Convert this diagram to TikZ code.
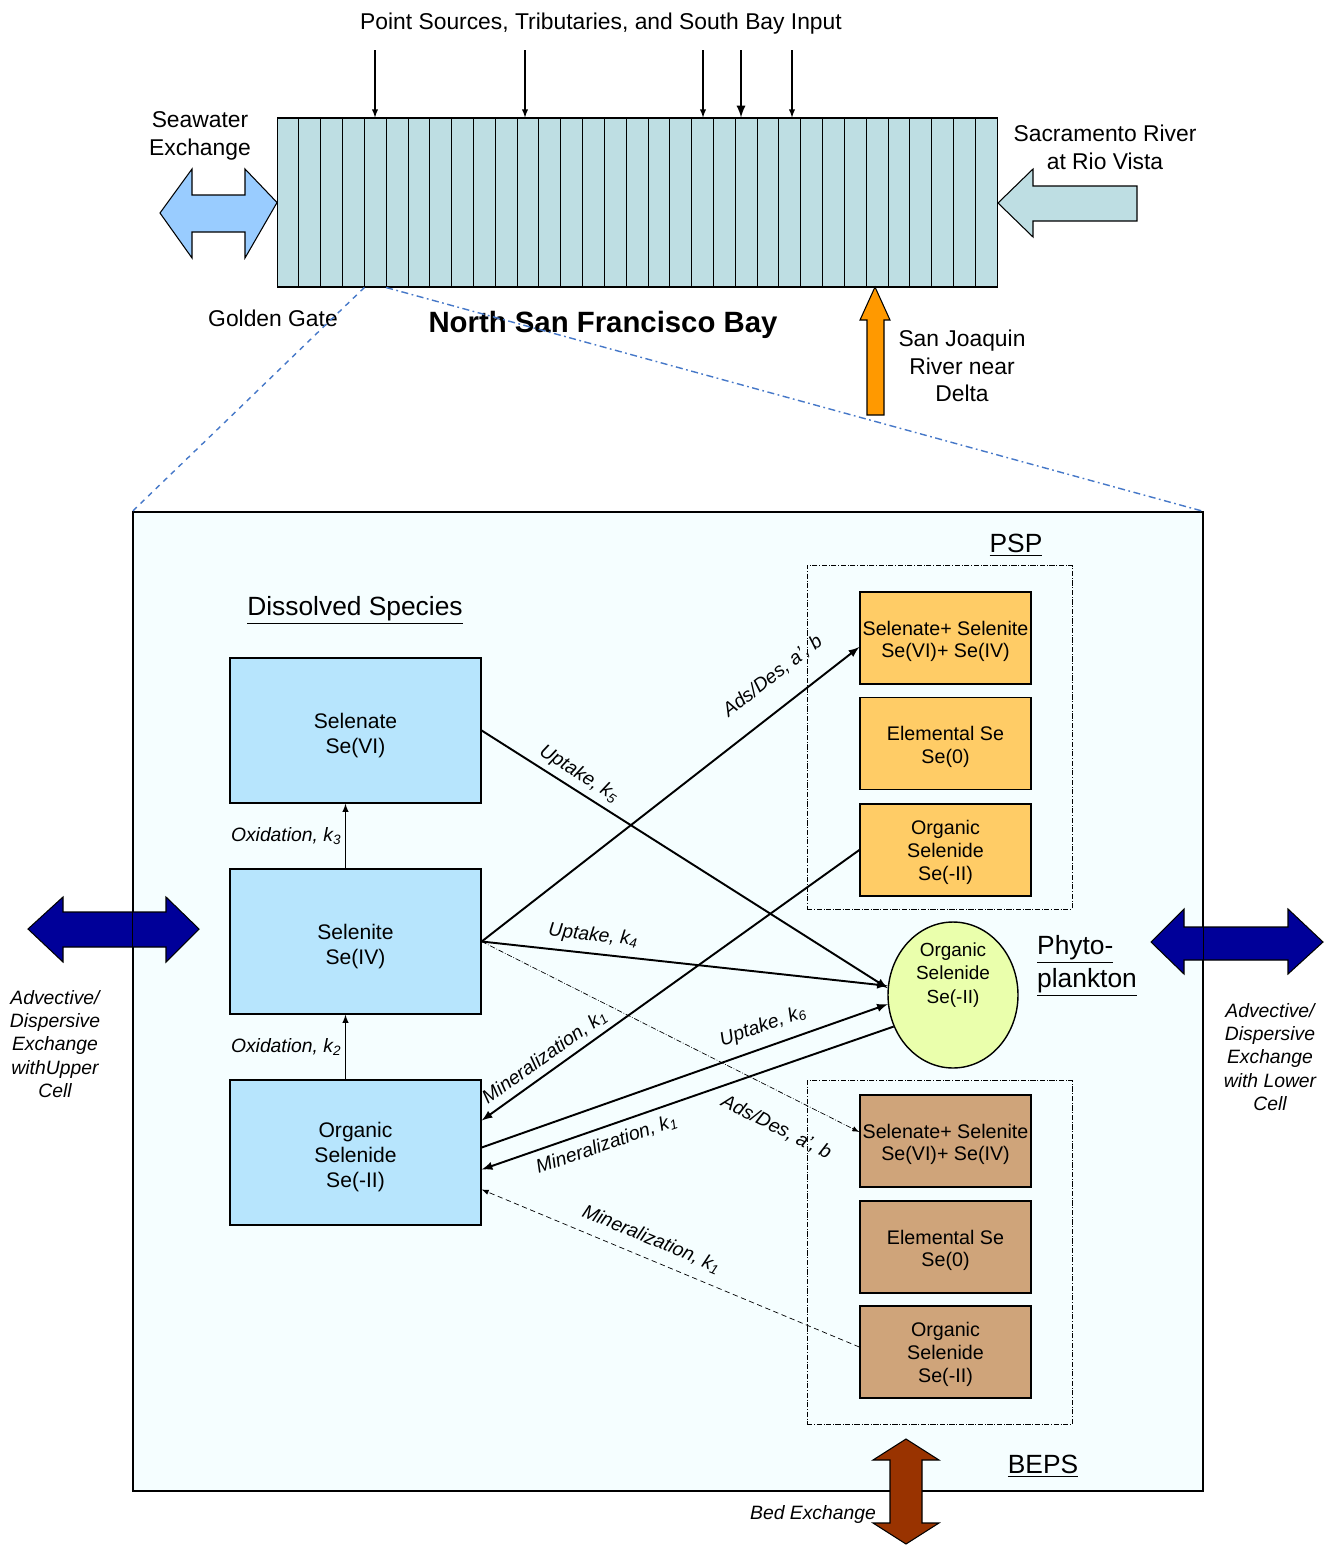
\documentclass[tikz,border=0pt]{standalone}
\usepackage{fontspec}
\setmainfont{Liberation Sans}
\usetikzlibrary{positioning,calc,shapes.geometric}
\definecolor{bay-bl}{RGB}{190,222,227}
\definecolor{sea-bl}{RGB}{153,204,255}
\definecolor{diss-bl}{RGB}{183,229,253}
\definecolor{psp-or}{RGB}{255,204,102}
\definecolor{beps-br}{RGB}{207,164,122}
\definecolor{phyto-gr}{RGB}{234,255,172}
\definecolor{cell-bg}{RGB}{245,254,255}
\definecolor{joaq-or}{RGB}{255,153,0}
\definecolor{exch-nv}{RGB}{0,0,153}
\definecolor{bed-rd}{RGB}{153,51,0}
\definecolor{zoom-bl}{RGB}{70,120,200}
\newcommand{\toppad}[1]{\rule{0pt}{#1}}
\tikzstyle{lbl}=[font=\fontsize{13pt}{15.8pt}\selectfont,align=center]
\tikzstyle{title}=[font=\bfseries\fontsize{16.7pt}{20pt}\selectfont]
\tikzstyle{head}=[font=\fontsize{15pt}{18.5pt}\selectfont,align=left]
\tikzstyle{note}=[font=\itshape\fontsize{11pt}{13.3pt}\selectfont,align=center]
\tikzstyle{ratelbl}=[font=\itshape\fontsize{11pt}{13pt}\selectfont,inner sep=2pt]
\tikzstyle{rate}=[ratelbl,sloped,inner sep=3pt]
\tikzstyle{species}=[draw,line width=0.8pt,fill=diss-bl,minimum width=5.02cm,minimum height=2.9cm,align=center,font=\fontsize{12pt}{14.2pt}\selectfont]
\tikzstyle{particle}=[draw,line width=0.8pt,minimum width=3.42cm,minimum height=1.84cm,align=center,inner sep=1pt,font=\fontsize{11.2pt}{13pt}\selectfont]
\tikzstyle{pspbox}=[particle,fill=psp-or]
\tikzstyle{bepsbox}=[particle,fill=beps-br]
\tikzstyle{pool}=[draw,thin,densely dash dot,minimum width=5.3cm,minimum height=6.88cm]
\tikzstyle{flux}=[draw,line width=1.1pt,-latex]
\tikzstyle{oxid}=[draw,line width=0.6pt,-latex]
\tikzstyle{inflow}=[draw,line width=0.6pt,-latex]
\tikzstyle{blockarrow}=[draw,line width=0.6pt]
\tikzstyle{zoomline}=[draw=zoom-bl,line width=0.8pt]

\begin{document}
\begin{tikzpicture}[x=0.02cm,y=-0.02cm]
    \useasboundingbox (0,0) rectangle (1331,1545);

    % bay segmentation
    \node[draw,line width=0.6pt,fill=bay-bl,minimum width=14.4cm,minimum height=3.38cm] (bay) at (637.5,202.5) {};
    \foreach \i in {1,...,32}
        \draw[line width=0.5pt] ($(bay.north west)+(\i*21.82,0)$) -- ($(bay.south west)+(\i*21.82,0)$);
    \coordinate (gg1) at ($(bay.south west)+(87.3,0)$);
    \coordinate (gg2) at ($(bay.south west)+(109.1,0)$);

    \node[lbl] (inputs) at (601,24) {Point Sources, Tributaries, and South Bay Input};
    \foreach \x in {375,525,703,792}
        \draw[inflow] (\x,50) -- (\x,0 |- bay.north);
    \draw[inflow,line width=1.3pt] (741,50) -- (741,0 |- bay.north);

    \node[lbl] (seawater) at (200,136) {Seawater\\Exchange};
    \draw[blockarrow,fill=sea-bl] (160,213) -- (192,169) -- (192,195) -- (245,195) -- (245,169) -- (bay.west) -- (245,258) -- (245,232) -- (192,232) -- (192,258) -- cycle;

    \node[lbl] (sacramento) at (1105,147) {Sacramento River\\at Rio Vista};
    \draw[blockarrow,fill=bay-bl] (998,203) -- (1033,169) -- (1033,186) -- (1137,186) -- (1137,221) -- (1033,221) -- (1033,237) -- cycle;

    \node[lbl] (goldengate) at (273,318) {Golden Gate};
    \node[title] (northbay) at (603,325) {North San Francisco Bay};

    \draw[blockarrow,fill=joaq-or] (875,287) -- (890,320) -- (884,320) -- (884,415) -- (867,415) -- (867,320) -- (860,320) -- cycle;
    \node[lbl] (sanjoaquin) at (962,366) {San Joaquin\\River near\\Delta};

    % one cell of the bay
    \node[draw,line width=0.8pt,fill=cell-bg,minimum width=21.4cm,minimum height=19.58cm] (cell) at (668,1001.5) {};
    \draw[zoomline,dashed] (gg1) -- (cell.north west);
    \draw[zoomline,dash pattern=on 4pt off 2pt on 1pt off 2pt] (gg2) -- (cell.north east);

    \draw[blockarrow,fill=exch-nv] (28,929) -- (63,897) -- (63,912) -- (166,912) -- (166,897) -- (199,929) -- (166,962) -- (166,947) -- (63,947) -- (63,962) -- cycle;
    \draw[blockarrow,fill=exch-nv] (1151,942) -- (1184,909) -- (1184,927) -- (1288,927) -- (1288,909) -- (1323,942) -- (1288,974) -- (1288,960) -- (1184,960) -- (1184,974) -- cycle;
    \draw[line width=0.8pt] (cell.north west) -- (cell.south west) (cell.north east) -- (cell.south east);
    \node[note] (upper) at (55,1044) {Advective/\\Dispersive\\Exchange\\withUpper\\Cell};
    \node[note] (lower) at (1270,1057) {Advective/\\Dispersive\\Exchange\\with Lower\\Cell};

    \node[head] (dissolved) at (355,610) {\underline{Dissolved Species}};
    \node[species] (selenate) at (355.5,730.5) {\toppad{14pt}Selenate\\Se(VI)};
    \node[species] (selenite) at (355.5,941.5) {\toppad{14pt}Selenite\\Se(IV)};
    \node[species] (organic) at (355.5,1152.5) {\toppad{14pt}Organic\\Selenide\\Se(-II)};

    \node[pool] (psp-pool) at (939.5,737) {};
    \node[head] (psp) at (1016,545) {\underline{PSP}};
    \node[pspbox] (psp-se) at (945.5,638) {\toppad{12pt}Selenate+ Selenite\\Se(VI)+ Se(IV)};
    \node[pspbox] (psp-el) at (945.5,743.5) {\toppad{12pt}Elemental Se\\Se(0)};
    \node[pspbox] (psp-org) at (945.5,850) {\toppad{11pt}Organic\\Selenide\\Se(-II)};

    \node[pool] (beps-pool) at (939.5,1252.5) {};
    \node[head] (beps) at (1043,1466) {\underline{BEPS}};
    \node[bepsbox] (beps-se) at (945.5,1141) {\toppad{12pt}Selenate+ Selenite\\Se(VI)+ Se(IV)};
    \node[bepsbox] (beps-el) at (945.5,1247) {\toppad{12pt}Elemental Se\\Se(0)};
    \node[bepsbox] (beps-org) at (945.5,1352) {\toppad{11pt}Organic\\Selenide\\Se(-II)};

    \node[ellipse,draw,line width=0.8pt,fill=phyto-gr,minimum width=2.6cm,minimum height=2.92cm,inner sep=0pt] (phyto) at (953,995) {};
    \node[align=center,font=\fontsize{10.8pt}{13.3pt}\selectfont] (phyto-txt) at ($(phyto.center)+(0,-20)$) {Organic\\Selenide\\Se(-II)};
    \node[head,anchor=west] (phyto-lbl) at (1031,966) {\underline{Phyto-}\\\underline{plankton}};

    \draw[blockarrow,fill=bed-rd] (906,1439) -- (939,1460) -- (922,1460) -- (922,1523) -- (939,1523) -- (906,1544) -- (873,1523) -- (890,1523) -- (890,1460) -- (873,1460) -- cycle;
    \node[note] (bed) at (813,1514) {Bed Exchange};

    % transformations
    \draw[oxid] ($(selenite.north)+(-10,0)$) -- ($(selenate.south)+(-10,0)$) node[ratelbl,left,midway] {Oxidation, k\textsubscript{3}};
    \draw[oxid] ($(organic.north)+(-10,0)$) -- ($(selenite.south)+(-10,0)$) node[ratelbl,left,midway] {Oxidation, k\textsubscript{2}};

    \draw[flux] (selenate.east) -- (phyto.174) node[rate,above,pos=0.22] {Uptake, k\textsubscript{5}};
    \draw[flux] (selenite.east) -- ($(psp-se.west)+(0,9)$) node[rate,above,pos=0.82,inner sep=12pt] {Ads/Des, a', b};
    \draw[flux] (selenite.east) -- (phyto.172) node[rate,above,pos=0.27,inner sep=4.5pt] {Uptake, k\textsubscript{4}};
    \draw[flux,thin,densely dash dot] (selenite.east) -- ($(beps-se.west)+(0,-9)$) node[rate,below,pos=0.82,inner sep=14pt] {Ads/Des, a', b};
    \draw[flux] (psp-org.west) -- ($(organic.east)+(0,-32)$) node[rate,above,pos=0.81] {Mineralization, k\textsubscript{1}};
    \draw[flux] ($(organic.east)+(0,-5)$) -- (phyto.188) node[rate,above,pos=0.71,inner sep=6pt] {Uptake, k\textsubscript{6}};
    \draw[flux] (phyto.208) -- ($(organic.east)+(0,17)$) node[rate,below,pos=0.71,inner sep=4.5pt] {Mineralization, k\textsubscript{1}};
    \draw[flux,thin,densely dashed] ($(beps-org.west)+(0,-5)$) -- ($(organic.east)+(0,37)$) node[rate,above,pos=0.57,inner sep=6pt] {Mineralization, k\textsubscript{1}};
\end{tikzpicture}
\end{document}
